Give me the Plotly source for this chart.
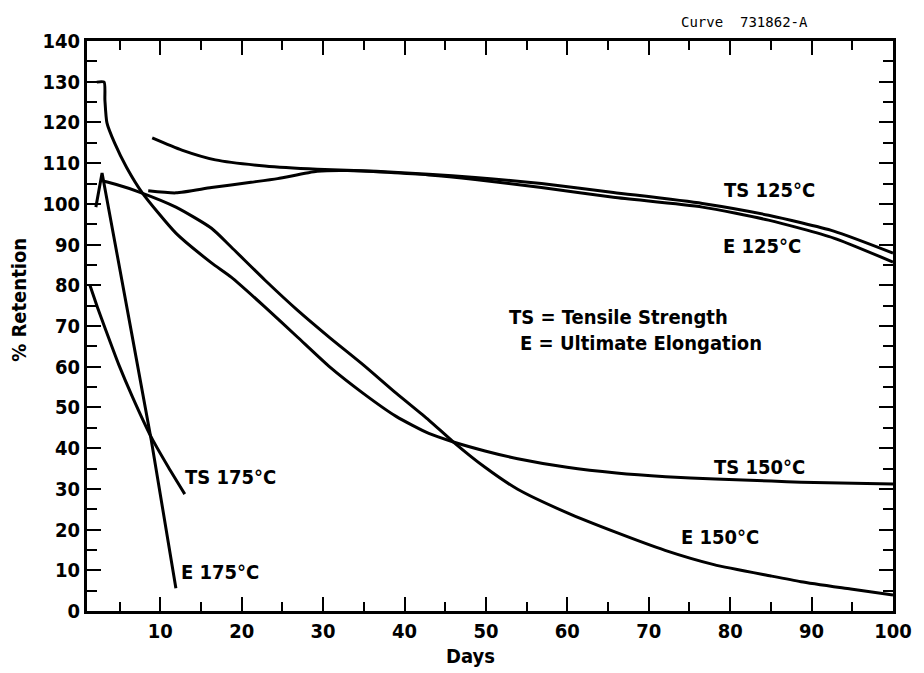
import plotly.graph_objects as go

# ---- data ----
ts125_x = [9.01, 12.65, 16.77, 22.84, 29.27, 36.55, 42.98, 48.68, 56.81, 65.66, 76.58, 84.71, 92.72, 100]
ts125_y = [116.2, 113.2, 110.8, 109.3, 108.5, 108.0, 107.3, 106.5, 105.0, 102.8, 100.1, 97.2, 93.3, 87.9]

e125_x = [8.52, 11.92, 16.29, 21.14, 24.41, 29.27, 33.0, 42.98, 48.68, 56.81, 65.66, 76.58, 84.71, 92.72, 100]
e125_y = [103.2, 102.7, 104.0, 105.3, 106.2, 108.0, 108.2, 107.1, 106.0, 104.0, 101.6, 99.2, 96.0, 91.6, 85.7]

ts150_x = [2.2, 3.1, 3.2, 3.45, 4.4, 5.85, 7.79, 11.92, 16.29, 18.71, 22.84, 26.84, 30.84, 34.97, 38.97,
           42.98, 46.01, 49.89, 53.9, 59.96, 66.03, 72.09, 78.16, 85.07, 88.71, 100]
ts150_y = [129.9, 129.9, 125.5, 119.9, 114.9, 109.0, 102.7, 92.8, 85.5, 82.0, 74.7, 67.3, 59.9, 53.4, 47.8,
           43.6, 41.5, 39.3, 37.4, 35.3, 33.9, 33.0, 32.4, 31.9, 31.6, 31.2]

e150_x = [2.94, 4.5, 7.43, 11.92, 16.29, 18.71, 22.84, 26.84, 30.84, 34.97, 38.97, 42.98, 46.01, 49.89,
          53.9, 60.0, 66.0, 72.0, 78.0, 85.0, 88.7, 94.8, 100]
e150_y = [105.6, 104.8, 102.9, 99.2, 94.0, 89.4, 81.3, 73.9, 67.1, 60.4, 53.5, 46.9, 41.5, 35.3,
          29.9, 24.1, 19.3, 14.9, 11.4, 8.6, 7.2, 5.4, 3.9]

ts175_x = [1.36, 2.3, 3.3, 4.9, 6.58, 8.89, 11.0, 13.01]
ts175_y = [80, 74.5, 69, 60.5, 52.6, 42.7, 35.3, 28.7]

e175_x = [2.09, 2.85, 6.46, 8.89, 11.92]
e175_y = [99.2, 107.6, 68.5, 42.0, 5.6]

labels = [
    ("TS 125°C", 84.8, 103.4),
    ("E 125°C", 83.9, 89.7),
    ("TS 150°C", 83.6, 35.4),
    ("E 150°C", 78.8, 18.2),
    ("TS 175°C", 18.6, 32.9),
    ("E 175°C", 17.3, 9.6),
]
note_lines = ["TS = Tensile Strength", "E = Ultimate Elongation"]

FONT = "Liberation Sans Narrow, DejaVu Sans Condensed, Roboto Condensed, Liberation Sans, sans-serif"
LBL = 20

# plot-area pixel geometry helpers (frame: x 87..903, y 41..611)
def px(xp):
    return (xp - 87) / 816

def py(yp):
    return (611 - yp) / 570

fig = go.Figure()
for xs, ys, shape in [(ts125_x, ts125_y, "spline"), (e125_x, e125_y, "spline"),
                      (ts150_x, ts150_y, "spline"), (e150_x, e150_y, "spline"),
                      (ts175_x, ts175_y, "spline"), (e175_x, e175_y, "linear")]:
    fig.add_trace(go.Scatter(x=xs, y=ys, mode="lines",
                             line=dict(color="black", width=3, shape=shape, smoothing=0.6),
                             showlegend=False, hoverinfo="skip"))

for txt, x, y in labels:
    fig.add_annotation(x=x, y=y, xref="x", yref="y", text=txt, showarrow=False,
                       xanchor="center", yanchor="middle",
                       font=dict(family=FONT, size=LBL, color="black", weight="bold"))

fig.add_annotation(x=px(512), y=py(317), xref="paper", yref="paper",
                   xanchor="left", yanchor="middle", showarrow=False,
                   text=note_lines[0], font=dict(family=FONT, size=LBL, color="black", weight="bold"))
fig.add_annotation(x=px(523), y=py(343), xref="paper", yref="paper",
                   xanchor="left", yanchor="middle", showarrow=False,
                   text=note_lines[1], font=dict(family=FONT, size=LBL, color="black", weight="bold"))

fig.add_annotation(x=px(475), y=py(656), xref="paper", yref="paper",
                   xanchor="center", yanchor="middle", showarrow=False, text="Days",
                   font=dict(family=FONT, size=LBL, color="black", weight="bold"))
fig.add_annotation(x=px(18), y=py(300), xref="paper", yref="paper",
                   xanchor="center", yanchor="middle", showarrow=False, text="% Retention", textangle=-90,
                   font=dict(family=FONT, size=LBL, color="black", weight="bold"))
fig.add_annotation(x=px(753), y=py(22), xref="paper", yref="paper",
                   xanchor="center", yanchor="middle", showarrow=False, text="Curve  731862-A",
                   font=dict(family="DejaVu Sans Mono, monospace", size=14, color="black"))

axis_common = dict(showgrid=False, zeroline=False, showline=True, linecolor="black", linewidth=3,
                   ticks="inside", mirror="ticks", tickcolor="black", tickwidth=2,
                   tickfont=dict(family=FONT, size=20, color="black", weight="bold"))

fig.update_xaxes(range=[1, 100], tick0=0, dtick=10, ticklen=14,
                 minor=dict(ticks="inside", tick0=0, dtick=5, ticklen=9, tickwidth=2, tickcolor="black"),
                 **axis_common)
fig.update_yaxes(range=[0, 140], tick0=0, dtick=10, ticklen=14,
                 minor=dict(ticks="inside", tick0=0, dtick=5, ticklen=10, tickwidth=2, tickcolor="black"),
                 **axis_common)

fig.update_layout(width=924, height=673, margin=dict(l=87, r=21, t=41, b=62),
                  plot_bgcolor="white", paper_bgcolor="white", showlegend=False)

fig.write_html("out.html")
